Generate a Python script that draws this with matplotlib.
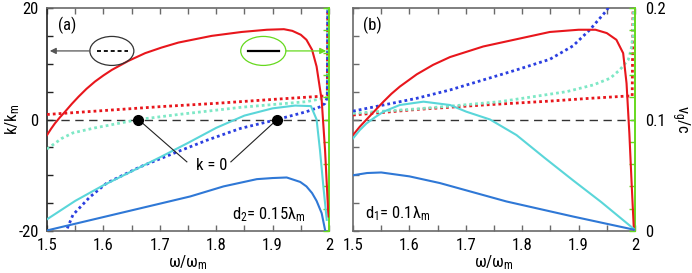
import numpy as np
import matplotlib
matplotlib.use('Agg')
import matplotlib.pyplot as plt
from matplotlib import font_manager as fm
from matplotlib.patches import Ellipse
from matplotlib.ticker import FuncFormatter, MultipleLocator, FixedLocator

# ---------------- data ----------------
# Panel (a): d2 = 0.15 lambda_m ; dotted = k/k_m (left axis), solid = v_g/c (right axis)
a_red_k_w = [1.5, 1.6, 1.7, 1.8, 1.9, 1.99, 1.997, 1.998]
a_red_k = [0.9, 1.6, 2.3, 2.9, 3.6, 4.2, 4.3, 25]
a_cyan_k_w = [1.5, 1.526, 1.546, 1.585, 1.606, 1.662, 1.733, 1.845, 1.96, 1.99, 1.997, 1.998]
a_cyan_k = [-5.3, -3.4, -2.4, -1.5, -1.1, 0, 0.9, 2.2, 3.2, 3.8, 4.0, 25]
a_blue_k_w = [1.532, 1.546, 1.576, 1.606, 1.665, 1.736, 1.784, 1.843, 1.908, 1.96, 1.985, 1.993, 1.997, 1.998]
a_blue_k = [-20.5, -17.1, -13.9, -11.4, -8.5, -5.6, -3.7, -1.6, 0, 1.4, 2.3, 2.9, 4.0, 25]

a_red_v_w = [1.5, 1.507, 1.514, 1.523, 1.532, 1.544, 1.556, 1.57, 1.585, 1.6, 1.615, 1.644, 1.674,
             1.703, 1.733, 1.792, 1.845, 1.89, 1.92, 1.935, 1.95, 1.96, 1.97, 1.978, 1.987, 1.993, 1.999]
a_red_v = [0.086, 0.0915, 0.0965, 0.102, 0.107, 0.114, 0.1205, 0.1275, 0.134, 0.1395, 0.1445,
           0.1525, 0.1595, 0.1645, 0.169, 0.175, 0.1785, 0.1805, 0.181, 0.1795, 0.176, 0.1715,
           0.1625, 0.1475, 0.1175, 0.0725, 0.013]
a_cyan_v_w = [1.5, 1.55, 1.6, 1.65, 1.7, 1.75, 1.8, 1.85, 1.9, 1.94, 1.968, 1.978, 1.984, 1.99, 1.996]
a_cyan_v = [0.0105, 0.027, 0.041, 0.0535, 0.066, 0.079, 0.0925, 0.1035, 0.11, 0.1125, 0.112, 0.1,
            0.0725, 0.04, 0.01]
a_blue_v_w = [1.5, 1.6, 1.7, 1.754, 1.813, 1.872, 1.9, 1.925, 1.949, 1.96, 1.97, 1.978, 1.987, 1.993]
a_blue_v = [0.0005, 0.0125, 0.0245, 0.031, 0.04, 0.0465, 0.0475, 0.048, 0.044, 0.04, 0.034, 0.027,
            0.016, 0.001]
a_zero_w = [1.662, 1.908]   # k = 0 points

# Panel (b): d1 = 0.1 lambda_m
b_red_k_w = [1.5, 1.613, 1.731, 1.849, 1.92, 1.985, 1.995, 1.997]
b_red_k = [0.8, 1.8, 2.6, 3.3, 3.8, 4.2, 4.2, 25]
b_cyan_k_w = [1.5, 1.554, 1.613, 1.672, 1.761, 1.82, 1.879, 1.926, 1.956, 1.973, 1.988, 1.993, 1.997, 1.998]
b_cyan_k = [1.1, 1.5, 1.9, 2.4, 3.2, 4.1, 5.0, 6.2, 7.4, 8.9, 10.7, 12.5, 15.5, 25]
b_blue_k_w = [1.5, 1.554, 1.613, 1.672, 1.731, 1.79, 1.849, 1.89, 1.92, 1.95, 1.96]
b_blue_k = [1.5, 2.6, 3.8, 5.3, 7.1, 8.9, 10.8, 13.2, 16.1, 19.6, 21.5]

b_red_v_w = [1.5, 1.512, 1.524, 1.539, 1.554, 1.568, 1.583, 1.613, 1.642, 1.672, 1.731, 1.79, 1.849,
             1.9, 1.93, 1.95, 1.967, 1.979, 1.985, 1.99, 1.994, 1.998]
b_red_v = [0.086, 0.0935, 0.1, 0.108, 0.116, 0.123, 0.1295, 0.1405, 0.149, 0.156, 0.1655, 0.172,
           0.1785, 0.1805, 0.1805, 0.1775, 0.1715, 0.1595, 0.1325, 0.0875, 0.043, 0.001]
b_cyan_v_w = [1.5, 1.512, 1.524, 1.539, 1.554, 1.583, 1.625, 1.672, 1.701, 1.743, 1.79, 1.84, 1.89, 1.94, 2.0]
b_cyan_v = [0.083, 0.0905, 0.0965, 0.102, 0.107, 0.113, 0.116, 0.113, 0.107, 0.1, 0.086, 0.0655,
            0.0455, 0.026, 0.001]
b_blue_v_w = [1.5, 1.525, 1.55, 1.6, 1.654, 1.772, 1.89, 2.0]
b_blue_v = [0.05, 0.052, 0.0525, 0.049, 0.043, 0.0265, 0.013, 0.001]

x_ticks = [1.5, 1.6, 1.7, 1.8, 1.9, 2.0]
k_ticks = [-20, 0, 20]
v_ticks = [0, 0.1, 0.2]

# ---------------- style ----------------
names = {f.name for f in fm.fontManager.ttflist}
fam = 'DejaVu Sans'
for cand in ['Liberation Sans Narrow', 'Roboto Condensed', 'Roboto']:
    if cand in names:
        fam = cand
        break
plt.rcParams['font.family'] = [fam, 'DejaVu Sans']
plt.rcParams['mathtext.fontset'] = 'custom'
plt.rcParams['mathtext.rm'] = fam
plt.rcParams['mathtext.it'] = fam
plt.rcParams['mathtext.default'] = 'regular'
FS = 12

RED = '#e8161c'
CYAN_S = '#5ad6d9'
CYAN_D = '#7ee8c6'
BLUE_S = '#2f78d6'
BLUE_D = '#2b3fe0'
GREEN = '#66d91e'
GRAY = '#6a6a6a'
DOT = (0, (1, 1.1))

fig = plt.figure(figsize=(6.92, 2.73), dpi=100)
W, H = 692.0, 273.0
ax_a = fig.add_axes([47 / W, 1 - 231 / H, 282 / W, 223 / H])
ax_b = fig.add_axes([353 / W, 1 - 231 / H, 282 / W, 223 / H])

fmt = FuncFormatter(lambda v, p: '%g' % round(v, 3))


def setup(ax, left_labels, right_labels, left_color):
    ax.set_xlim(1.5, 2.0)
    ax.set_ylim(-20, 20)
    ax.xaxis.set_major_locator(FixedLocator(x_ticks))
    ax.xaxis.set_minor_locator(MultipleLocator(0.05))
    ax.xaxis.set_major_formatter(fmt)
    ax.yaxis.set_major_locator(FixedLocator(k_ticks))
    ax.yaxis.set_minor_locator(MultipleLocator(5))
    ax.yaxis.set_major_formatter(fmt)
    ax.tick_params(axis='both', which='both', direction='in', top=True, right=False,
                   color=GRAY, labelsize=FS, labelcolor='black')
    ax.tick_params(axis='both', which='major', length=4, width=1)
    ax.tick_params(axis='both', which='minor', length=4, width=1)
    ax.tick_params(axis='x', which='major', pad=5)
    ax.tick_params(axis='y', which='major', pad=6, labelleft=left_labels)
    ax.tick_params(axis='y', which='both', color=left_color)
    for s in ['top', 'bottom']:
        ax.spines[s].set_color(GRAY)
        ax.spines[s].set_linewidth(1.2)
    ax.spines['left'].set_color(left_color)
    ax.spines['left'].set_linewidth(1.2)
    ax.spines['right'].set_visible(False)
    ax.set_xlabel(r'ω/ω$_\mathrm{m}$', fontsize=FS, labelpad=0)
    ax.axhline(0, color='#333333', lw=1.0, dashes=(6, 4), zorder=1)

    tw = ax.twinx()
    tw.set_ylim(0, 0.2)
    tw.yaxis.set_major_locator(FixedLocator(v_ticks))
    tw.yaxis.set_minor_locator(MultipleLocator(0.02))
    tw.yaxis.set_major_formatter(fmt)
    tw.tick_params(axis='y', which='both', direction='in', color=GREEN, length=4, width=1,
                   labelsize=FS, labelcolor='black', labelright=right_labels, pad=7)
    for s in ['top', 'bottom', 'left']:
        tw.spines[s].set_visible(False)
    tw.spines['right'].set_color(GREEN)
    tw.spines['right'].set_linewidth(1.4)
    return tw


tw_a = setup(ax_a, True, False, '#222222')
tw_b = setup(ax_b, False, True, GRAY)
ax_a.set_ylabel(r'k/k$_\mathrm{m}$', fontsize=FS, va='center')
ax_a.yaxis.set_label_coords(-0.122, 0.5)
tw_b.set_ylabel(r'v$_\mathrm{g}$/c', fontsize=FS, rotation=-90, va='center')
tw_b.yaxis.set_label_coords(1.16, 0.5)

# ----- panel (a) curves -----
ax_a.plot(a_red_k_w, a_red_k, color=RED, lw=2, ls=DOT, zorder=3)
ax_a.plot(a_cyan_k_w, a_cyan_k, color=CYAN_D, lw=2, ls=DOT, zorder=3)
ax_a.plot(a_blue_k_w, a_blue_k, color=BLUE_D, lw=2, ls=DOT, zorder=3)
tw_a.plot(a_red_v_w, a_red_v, color=RED, lw=1.5, zorder=4)
tw_a.plot(a_cyan_v_w, a_cyan_v, color=CYAN_S, lw=1.5, zorder=4)
tw_a.plot(a_blue_v_w, a_blue_v, color=BLUE_S, lw=1.5, zorder=4)

# k = 0 markers and annotation
tw_a.plot(a_zero_w, [0.1, 0.1], 'o', color='black', ms=7, zorder=6)
ax_a.text(1.7926, -8.2, 'k = 0', fontsize=FS, ha='center', va='center')
tw_a.plot([a_zero_w[0], 1.748], [0.1, 0.1 - 7.6 / 200], color='#222222', lw=0.8, zorder=5)
tw_a.plot([a_zero_w[1], 1.826], [0.1, 0.1 - 7.6 / 200], color='#222222', lw=0.8, zorder=5)

ax_a.text(1.535, 16.8, '(a)', fontsize=FS, ha='center', va='center')
ax_a.text(1.828, -17.0, r'd$_2$= 0.15λ$_\mathrm{m}$', fontsize=FS, ha='left', va='center')

# legend ellipses
tw_a.add_patch(Ellipse((1.615, 0.1615), 0.078, 0.026, fill=False, ec='#333333', lw=0.9, zorder=5))
tw_a.plot([1.589, 1.644], [0.1615, 0.1615], color='black', lw=1.3, dashes=(2.2, 1.6), zorder=5)
tw_a.annotate('', xy=(1.505, 0.1615), xytext=(1.576, 0.1615),
              arrowprops=dict(arrowstyle='-|>', color='#555555', lw=0.9, mutation_scale=9,
                              shrinkA=0, shrinkB=0), zorder=5)
tw_a.add_patch(Ellipse((1.8835, 0.1615), 0.080, 0.026, fill=False, ec=GREEN, lw=0.9, zorder=5))
tw_a.plot([1.856, 1.911], [0.1615, 0.1615], color='black', lw=1.6, zorder=5)
tw_a.annotate('', xy=(1.995, 0.1615), xytext=(1.924, 0.1615),
              arrowprops=dict(arrowstyle='-|>', color=GREEN, lw=0.9, mutation_scale=9,
                              shrinkA=0, shrinkB=0), zorder=5)

# ----- panel (b) curves -----
ax_b.plot(b_red_k_w, b_red_k, color=RED, lw=2, ls=DOT, zorder=3)
ax_b.plot(b_cyan_k_w, b_cyan_k, color=CYAN_D, lw=2, ls=DOT, zorder=3)
ax_b.plot(b_blue_k_w, b_blue_k, color=BLUE_D, lw=2, ls=DOT, zorder=3)
tw_b.plot(b_red_v_w, b_red_v, color=RED, lw=1.5, zorder=4)
tw_b.plot(b_cyan_v_w, b_cyan_v, color=CYAN_S, lw=1.5, zorder=4)
tw_b.plot(b_blue_v_w, b_blue_v, color=BLUE_S, lw=1.5, zorder=4)

ax_b.text(1.535, 16.8, '(b)', fontsize=FS, ha='center', va='center')
ax_b.text(1.521, -16.8, r'd$_1$= 0.1λ$_\mathrm{m}$', fontsize=FS, ha='left', va='center')

fig.savefig('out.png', dpi=100)
